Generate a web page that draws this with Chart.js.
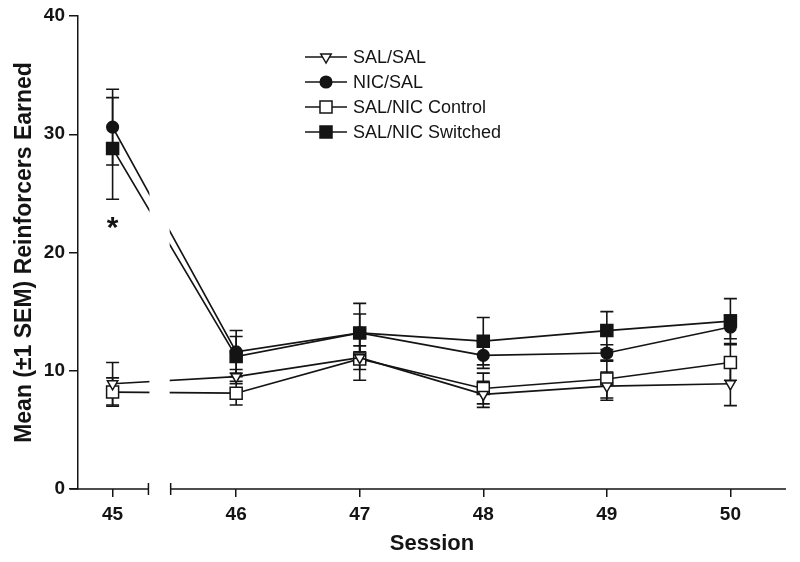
<!DOCTYPE html>
<html>
<head>
<meta charset="utf-8">
<script src="https://cdn.jsdelivr.net/npm/chart.js"></script>
<style>
  html, body { margin: 0; padding: 0; background: #fff; }
  #wrap { width: 800px; height: 562px; }
</style>
</head>
<body>
<div id="wrap"><canvas id="chart" width="800" height="562"></canvas></div>
<script>
// sessions and group means (±1 SEM)
const sessions = [45, 46, 47, 48, 49, 50];
const yTicks = [0, 10, 20, 30, 40];

const salSal = [8.9, 9.5, 11.1, 8.0, 8.7, 8.9];
const salSalSem = [1.8, 0.6, 1.0, 1.1, 1.2, 1.85];

const nicSal = [30.6, 11.6, 13.2, 11.3, 11.5, 13.7];
const nicSalSem = [3.2, 1.8, 1.6, 1.1, 0.7, 1.0];

const ctrl = [8.2, 8.1, 11.0, 8.5, 9.3, 10.7];
const ctrlSem = [1.2, 1.0, 1.8, 1.3, 1.6, 1.5];

const switched = [28.8, 11.2, 13.2, 12.5, 13.4, 14.2];
const switchedSem = [4.3, 1.7, 2.5, 2.0, 1.6, 1.9];

const labels = ['SAL/SAL', 'NIC/SAL', 'SAL/NIC Control', 'SAL/NIC Switched'];
const star = { x: 45, y: 21.3, text: '*' };

// axis break between 45 and 46 (in session units)
const breakFrom = 45.29, breakTo = 45.47;

const INK = '#141414';
const FONT = 'Liberation Sans, Arial, Helvetica, sans-serif';

function pts(vals) { return sessions.map((s, i) => ({ x: s, y: vals[i] })); }

const styles = [
  { pointStyle: 'triangle', rotation: 180, radius: 6, fill: '#fff' },
  { pointStyle: 'circle', rotation: 0, radius: 5.8, fill: INK },
  { pointStyle: 'rect', rotation: 0, radius: 8.5, fill: '#fff' },
  { pointStyle: 'rect', rotation: 0, radius: 8.5, fill: INK }
];
const series = [salSal, nicSal, ctrl, switched];
const sems = [salSalSem, nicSalSem, ctrlSem, switchedSem];

const datasets = series.map((vals, i) => ({
  label: labels[i],
  data: pts(vals),
  borderColor: INK,
  borderWidth: 1.7,
  backgroundColor: styles[i].fill,
  pointStyle: styles[i].pointStyle,
  pointRotation: styles[i].rotation,
  pointRadius: styles[i].radius,
  pointBorderColor: INK,
  pointBackgroundColor: styles[i].fill,
  pointBorderWidth: 1.5,
  tension: 0,
  sem: sems[i]
}));

// little marker drawer for the legend
function marker(ctx, st, x, y) {
  ctx.save();
  ctx.fillStyle = st.fill;
  ctx.strokeStyle = INK;
  ctx.lineWidth = 1.5;
  ctx.beginPath();
  if (st.pointStyle === 'circle') {
    ctx.arc(x, y, st.radius, 0, Math.PI * 2);
  } else if (st.pointStyle === 'rect') {
    const h = st.radius * Math.SQRT1_2;
    ctx.rect(x - h, y - h, 2 * h, 2 * h);
  } else {
    const r = st.radius;
    ctx.moveTo(x, y + r);
    ctx.lineTo(x - r * 0.866, y - r * 0.5);
    ctx.lineTo(x + r * 0.866, y - r * 0.5);
    ctx.closePath();
  }
  ctx.fill();
  ctx.stroke();
  ctx.restore();
}

const errorBars = {
  id: 'errorBars',
  beforeDatasetsDraw(chart) {
    const { ctx, scales: { x, y } } = chart;
    ctx.save();
    ctx.strokeStyle = INK;
    ctx.lineWidth = 1.6;
    chart.data.datasets.forEach(ds => {
      ds.data.forEach((p, i) => {
        const px = x.getPixelForValue(p.x);
        const top = y.getPixelForValue(p.y + ds.sem[i]);
        const bot = y.getPixelForValue(p.y - ds.sem[i]);
        ctx.beginPath();
        ctx.moveTo(px, top); ctx.lineTo(px, bot);
        ctx.moveTo(px - 6.5, top); ctx.lineTo(px + 6.5, top);
        ctx.moveTo(px - 6.5, bot); ctx.lineTo(px + 6.5, bot);
        ctx.stroke();
      });
    });
    ctx.restore();
  }
};

const brokenAxis = {
  id: 'brokenAxis',
  afterDatasetsDraw(chart) {
    const { ctx, chartArea: a, scales: { x, y } } = chart;
    const b1 = x.getPixelForValue(breakFrom);
    const b2 = x.getPixelForValue(breakTo);
    const y0 = a.bottom;
    ctx.save();
    // gap in the lines
    ctx.fillStyle = '#fff';
    ctx.fillRect(b1 + 1, a.top, b2 - b1 - 2, a.bottom - a.top + 2);
    // axis pieces
    ctx.strokeStyle = INK;
    ctx.lineWidth = 1.5;
    ctx.beginPath();
    ctx.moveTo(a.left - 8, y0); ctx.lineTo(b1, y0);
    ctx.moveTo(b1, y0 - 6); ctx.lineTo(b1, y0 + 6);
    ctx.moveTo(b2, y0 - 6); ctx.lineTo(b2, y0 + 6);
    ctx.moveTo(b2, y0); ctx.lineTo(a.right, y0);
    ctx.stroke();
    // significance mark
    ctx.fillStyle = INK;
    ctx.font = 'bold 30px ' + FONT;
    ctx.textAlign = 'center';
    ctx.textBaseline = 'alphabetic';
    ctx.fillText(star.text, x.getPixelForValue(star.x), y.getPixelForValue(star.y));
    ctx.restore();
  }
};

const insideLegend = {
  id: 'insideLegend',
  afterDraw(chart) {
    const { ctx } = chart;
    ctx.save();
    ctx.font = '18px ' + FONT;
    ctx.textBaseline = 'middle';
    labels.forEach((lab, i) => {
      const yy = 57 + i * 25;
      ctx.strokeStyle = INK;
      ctx.lineWidth = 1.5;
      ctx.beginPath();
      ctx.moveTo(305, yy); ctx.lineTo(347, yy);
      ctx.stroke();
      marker(ctx, styles[i], 326, yy);
      ctx.fillStyle = INK;
      ctx.fillText(lab, 353, yy + 1);
    });
    ctx.restore();
  }
};

new Chart(document.getElementById('chart'), {
  type: 'line',
  data: { datasets },
  options: {
    responsive: false,
    animation: false,
    devicePixelRatio: 1,
    layout: { padding: { top: 16, right: 14, left: 0, bottom: 0 } },
    plugins: { legend: { display: false }, tooltip: { enabled: false } },
    scales: {
      x: {
        type: 'linear',
        min: 44.72,
        max: 50.45,
        afterBuildTicks: s => { s.ticks = sessions.map(v => ({ value: v })); },
        afterFit: s => { s.height = 73; },
        grid: { drawOnChartArea: false, drawTicks: true, tickLength: 8, color: INK, lineWidth: 1.5 },
        border: { display: false },
        ticks: { color: INK, padding: 6, font: { family: FONT, size: 19, weight: 'bold' } },
        title: { display: true, text: 'Session', color: INK, padding: { top: 0, bottom: 5 },
                 font: { family: FONT, size: 22, weight: 'bold' } }
      },
      y: {
        min: 0,
        max: 40,
        afterBuildTicks: s => { s.ticks = yTicks.map(v => ({ value: v })); },
        afterFit: s => { s.width = 78; },
        grid: { drawOnChartArea: false, drawTicks: true, tickLength: 9, color: INK, lineWidth: 1.5 },
        border: { display: true, color: INK, width: 1.5 },
        ticks: { color: INK, padding: 4, font: { family: FONT, size: 19, weight: 'bold' } },
        title: { display: true, text: 'Mean (±1 SEM) Reinforcers Earned', color: INK,
                 padding: { top: 11, bottom: 0 },
                 font: { family: FONT, size: 23, weight: 'bold' } }
      }
    }
  },
  plugins: [errorBars, brokenAxis, insideLegend]
});
</script>
</body>
</html>
